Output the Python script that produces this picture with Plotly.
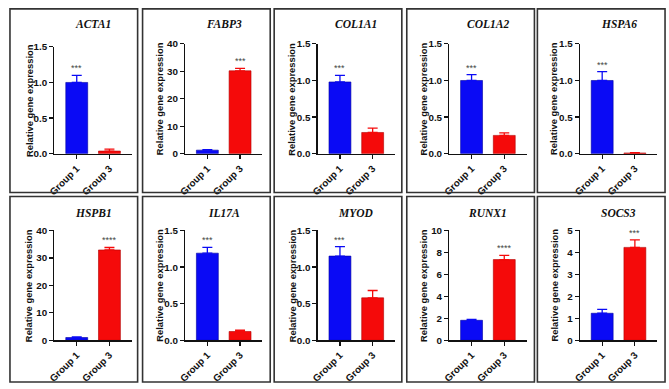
import plotly.graph_objects as go

genes = ["ACTA1", "FABP3", "COL1A1", "COL1A2", "HSPA6",
         "HSPB1", "IL17A", "MYOD", "RUNX1", "SOCS3"]
groups = ["Group 1", "Group 3"]
group1_mean = [1.00, 1.3, 0.98, 1.00, 1.00, 1.0, 1.19, 1.15, 1.82, 1.23]
group1_sem = [0.10, 0.2, 0.09, 0.08, 0.12, 0.2, 0.08, 0.13, 0.09, 0.18]
group3_mean = [0.037, 30.2, 0.29, 0.25, 0.01, 32.9, 0.12, 0.58, 7.35, 4.23]
group3_sem = [0.028, 0.9, 0.06, 0.035, 0.006, 0.9, 0.02, 0.10, 0.38, 0.34]
y_max = [1.5, 40, 1.5, 1.5, 1.5, 40, 1.5, 1.5, 10, 5]
y_dtick = [0.5, 10, 0.5, 0.5, 0.5, 10, 0.5, 0.5, 2, 1]
sig_label = ["***", "***", "***", "***", "***", "****", "***", "***", "****", "***"]
sig_group = [0, 1, 0, 0, 0, 1, 0, 0, 1, 1]
y_title = "Relative gene expression"

W, H = 669, 389
bar_colors = ["#0A0AF5", "#F50A0A"]
edge_colors = ["#0000A0", "#B00000"]

panel_left = [3, 137, 270, 404, 536]
axis_left = [48, 180, 314, 447, 579]
axis_len = 78
row_box = [(3, 192), (196, 387)]
row_plot = [(39, 152), (231, 344)]
row_title_y = [19, 213]


def px(x):
    return x / W


def py(y):
    return 1 - y / H


fig = go.Figure()
shapes = []
annotations = []
tick_font = dict(family="Liberation Sans", size=9.8, color="#111111", weight="bold")

for i, gene in enumerate(genes):
    r, c = divmod(i, 5)
    n = i + 1
    xa = "x" if n == 1 else f"x{n}"
    ya = "y" if n == 1 else f"y{n}"
    x0 = axis_left[c]
    x1 = x0 + axis_len
    top, bottom = row_plot[r]
    if i == 0:
        top = 42
    for g in range(2):
        mean = [group1_mean[i], group3_mean[i]][g]
        sem = [group1_sem[i], group3_sem[i]][g]
        fig.add_trace(go.Bar(
            x=[g], y=[mean], xaxis=xa, yaxis=ya, width=0.67,
            marker=dict(color=bar_colors[g], line=dict(color=edge_colors[g], width=0.6)),
            error_y=dict(type="data", symmetric=False, array=[sem], arrayminus=[0],
                         color=bar_colors[g], thickness=1.3, width=5),
            showlegend=False, hoverinfo="skip"))
    xkey = "xaxis" if n == 1 else f"xaxis{n}"
    ykey = "yaxis" if n == 1 else f"yaxis{n}"
    fig.update_layout({
        xkey: dict(domain=[px(x0), px(x1)], anchor=ya, range=[-0.68, 1.68],
                   tickmode="array", tickvals=[0, 1], ticktext=groups, tickangle=-45,
                   showline=True, linecolor="#111111", linewidth=1.3,
                   ticks="outside", ticklen=4, tickwidth=1.2, tickcolor="#111111",
                   showgrid=False, zeroline=False, tickfont=tick_font, fixedrange=True),
        ykey: dict(domain=[py(bottom), py(top)], anchor=xa, range=[0, y_max[i]],
                   dtick=y_dtick[i], tick0=0,
                   tickformat=".1f" if y_dtick[i] < 1 else "d",
                   showline=True, linecolor="#111111", linewidth=1.3,
                   ticks="outside", ticklen=4, tickwidth=1.2, tickcolor="#111111",
                   showgrid=False, zeroline=False, tickfont=tick_font, fixedrange=True),
    })
    # panel border
    bt, bb = row_box[r]
    shapes.append(dict(type="rect", xref="paper", yref="paper",
                       x0=px(panel_left[c]), x1=px(panel_left[c] + 129),
                       y0=py(bb), y1=py(bt),
                       line=dict(color="#333333", width=1.6)))
    # gene title
    annotations.append(dict(xref="paper", yref="paper", x=px((x0 + x1) / 2), y=py(row_title_y[r]),
                            text=gene, showarrow=False, xanchor="center", yanchor="middle",
                            font=dict(family="Liberation Serif", size=11.5, color="#111111",
                                      weight="bold", style="italic")))
    # y-axis title
    annotations.append(dict(xref="paper", yref="paper", x=px(x0 - 26), y=py((top + bottom) / 2),
                            text=y_title, showarrow=False, textangle=-90,
                            xanchor="center", yanchor="middle",
                            font=dict(family="Liberation Sans", size=9.4, color="#111111",
                                      weight="bold")))
    # significance stars
    sg = sig_group[i]
    ytop = [group1_mean[i] + group1_sem[i], group3_mean[i] + group3_sem[i]][sg]
    annotations.append(dict(xref=xa, yref=ya, x=sg, y=ytop, text=sig_label[i],
                            showarrow=False, xanchor="center", yanchor="bottom", yshift=0,
                            font=dict(family="Liberation Sans", size=9, color="#444444")))

fig.update_layout(width=W, height=H, margin=dict(l=0, r=0, t=0, b=0),
                  paper_bgcolor="white", plot_bgcolor="white",
                  shapes=shapes, annotations=annotations, bargap=0)
fig.write_html("out.html", config={"displayModeBar": False, "staticPlot": True})

with open("out.html", "r", encoding="utf-8") as f:
    html = f.read()
html = html.replace("<head>", "<head><style>html,body{margin:0;padding:0;overflow:hidden;}</style>", 1)
with open("out.html", "w", encoding="utf-8") as f:
    f.write(html)
